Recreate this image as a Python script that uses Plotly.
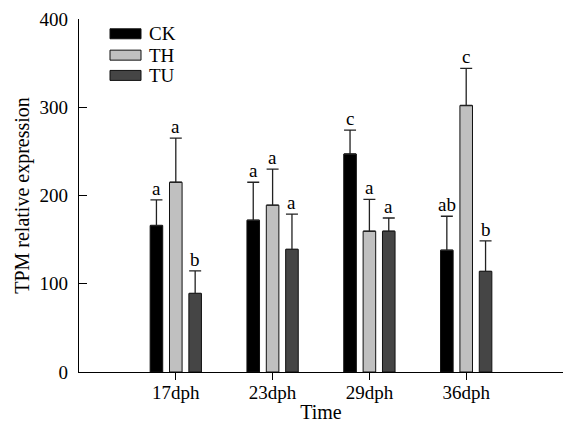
import plotly.graph_objects as go

categories = ["17dph", "23dph", "29dph", "36dph"]
series_names = ["CK", "TH", "TU"]
ck_values = [166, 172, 247, 138]
th_values = [215, 189, 159.5, 302]
tu_values = [89, 139, 159.5, 114]
ck_errors = [29, 43, 27, 38.5]
th_errors = [50, 41, 36, 42]
tu_errors = [25.5, 40, 15, 34.5]
ck_letters = ["a", "a", "c", "ab"]
th_letters = ["a", "a", "a", "c"]
tu_letters = ["b", "a", "a", "b"]
y_ticks = [0, 100, 200, 300, 400]

colors = ["#000000", "#c0c0c0", "#454545"]
FONT = "'Liberation Serif', 'Times New Roman', Times, serif"

fig = go.Figure()
values = [ck_values, th_values, tu_values]
errors = [ck_errors, th_errors, tu_errors]
letters = [ck_letters, th_letters, tu_letters]

for name, vals, errs, col in zip(series_names, values, errors, colors):
    fig.add_trace(go.Bar(
        x=categories, y=vals, name=name,
        marker=dict(color=col, line=dict(color="#111111", width=1)),
        error_y=dict(type="data", array=errs, arrayminus=[0] * len(errs),
                     symmetric=False, color="#222222", thickness=1.3, width=6),
        showlegend=False,
    ))

# letters above error bars (grouped offsets matching bar slots)
slot = 0.2
for k, (vals, errs, labs) in enumerate(zip(values, errors, letters)):
    off = (k - 1) * slot
    for i, (v, e, t) in enumerate(zip(vals, errs, labs)):
        fig.add_annotation(x=i + off, y=v + e, text=t, showarrow=False,
                           xref="x", yref="y", yanchor="bottom", yshift=-1,
                           font=dict(family=FONT, size=19, color="black"))

# legend drawn as shapes + text
L, R, T, B = 79, 563, 18.5, 372
def px(x):
    return (x - L) / (R - L)
def py(y):
    return (B - y) / (B - T)

legend_rows = [33.3, 54.7, 75]
for name, col, yc in zip(series_names, colors, legend_rows):
    fig.add_shape(type="rect", xref="paper", yref="paper",
                  x0=px(110), x1=px(141), y0=py(yc + 5), y1=py(yc - 5),
                  fillcolor=col, line=dict(color="#111111", width=1))
    fig.add_annotation(xref="paper", yref="paper", x=px(147), y=py(yc),
                       text=name, showarrow=False, xanchor="left", yanchor="middle",
                       font=dict(family=FONT, size=19, color="black"))

fig.update_layout(
    width=563, height=423,
    margin=dict(l=L, r=0, t=T, b=423 - B),
    paper_bgcolor="white", plot_bgcolor="white",
    barmode="group", bargap=0.4, bargroupgap=0.35,
    font=dict(family=FONT, size=19, color="black"),
    xaxis=dict(
        range=[-1, 4], showline=True, linecolor="black", linewidth=1.3,
        ticks="outside", ticklen=7, tickwidth=1.3, tickcolor="black",
        showgrid=False, zeroline=False, automargin=False, ticklabelstandoff=-4,
        title=dict(text="Time", font=dict(family=FONT, size=20), standoff=6),
        tickfont=dict(family=FONT, size=19),
    ),
    yaxis=dict(
        range=[0, 400], tickvals=y_ticks, showline=True, linecolor="black",
        linewidth=1.3, ticks="inside", ticklen=8, tickwidth=1.3, tickcolor="black",
        showgrid=False, zeroline=False, automargin=False, ticklabelstandoff=6,
        title=dict(text="TPM relative expression", font=dict(family=FONT, size=20), standoff=4),
        tickfont=dict(family=FONT, size=19),
    ),
)

fig.write_html("out.html", config={"displayModeBar": False},
               post_script="document.body.style.margin='0';document.body.style.overflow='hidden';")
